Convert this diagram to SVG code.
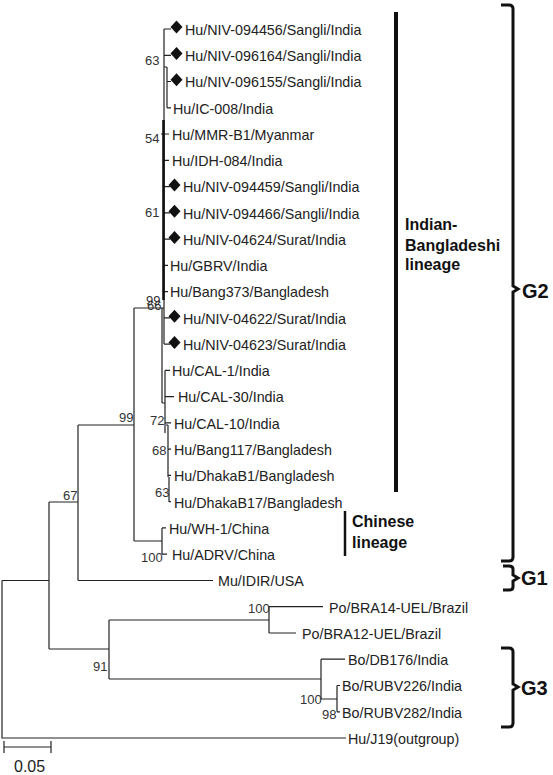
<svg xmlns="http://www.w3.org/2000/svg" width="553" height="775" viewBox="0 0 553 775">
<style>
.t{font-family:"Liberation Sans",Arial,sans-serif;font-size:14.3px;fill:#222}
.b{font-family:"Liberation Sans",Arial,sans-serif;font-size:13px;fill:#333}
.lb{font-family:"Liberation Sans",Arial,sans-serif;font-size:16px;font-weight:bold;fill:#111}
.g{font-family:"Liberation Sans",Arial,sans-serif;font-size:20px;font-weight:bold;fill:#111}
.e{fill:none;stroke:#222;stroke-width:1.2}
.k{fill:none;stroke:#111;stroke-width:3}
</style>
<defs>
<path id="dm" d="M0,-6.5 L6,0 L0,6.5 L-6,0 Z" fill="#111"/>
</defs>
<g id="connectors">
<path class="e" d="M2,580.5 V738 H346 M2,580.5 H49 M49,502 V649 M49,649 H109 M109,620 V679 M109,620 H269 M269,606.7 V633 M269,606.7 H323 M269,633 H296 M109,679 H321 M321,659.2 V699 M321,659.2 H345 M321,699 H337 M337,685.5 V711.8 M337,685.5 H340 M337,711.8 H340"/>
<path class="e" d="M49,502 H78 M78,425 V580.5 M78,580.5 H213 M78,425 H134 M134,308 V541 M134,541 H162 M162,527.9 V554.2 M162,527.9 H166 M162,554.2 H167 M134,308 H164"/>
<path class="e" d="M164,29 V344.1 M164,29 H171 M164,55.3 H171 M164,67 H167 M167,67 V107.8 M167,81.5 H171 M167,107.8 H171 M161,134 H169 M164,160.3 H169 M164,186.6 H170 M164,212.8 H170 M164,239.1 H170 M164,265.3 H168 M164,291.6 H168 M164,317.9 H170 M164,344.1 H170"/>
<path class="k" d="M163.5,120 V300" style="stroke-width:2.6"/>
<path class="e" d="M162,308 V403 M162,403 H165 M165,370.4 V433 M165,370.4 H170 M165,396.6 H167 M167,396.6 H174 M165,422.9 H171 M166,425 H168 M168,425 V477 M168,449.2 H171 M168,475.4 H171 M169,477 V502 M169,501.7 H171"/>
<path class="e" d="M4,747 H51 M4,741 V753 M51,741 V753"/>
</g>
<g id="markers">
<use href="#dm" x="176.5" y="27"/>
<use href="#dm" x="176.5" y="53.5"/>
<use href="#dm" x="176.5" y="79.7"/>
<use href="#dm" x="174.5" y="185"/>
<use href="#dm" x="174.5" y="211.2"/>
<use href="#dm" x="174.5" y="237.5"/>
<use href="#dm" x="174.5" y="316.3"/>
<use href="#dm" x="174.5" y="342.5"/>
</g>
<g id="leaves">
<text class="t" x="185" y="34.8">Hu/NIV-094456/Sangli/India</text>
<text class="t" x="185" y="61.1">Hu/NIV-096164/Sangli/India</text>
<text class="t" x="185" y="87.3">Hu/NIV-096155/Sangli/India</text>
<text class="t" x="173" y="113.6">Hu/IC-008/India</text>
<text class="t" x="172" y="139.8">Hu/MMR-B1/Myanmar</text>
<text class="t" x="172" y="166.1">Hu/IDH-084/India</text>
<text class="t" x="183" y="192.4">Hu/NIV-094459/Sangli/India</text>
<text class="t" x="183" y="218.6">Hu/NIV-094466/Sangli/India</text>
<text class="t" x="183" y="244.9">Hu/NIV-04624/Surat/India</text>
<text class="t" x="170" y="271.1">Hu/GBRV/India</text>
<text class="t" x="170" y="297.4">Hu/Bang373/Bangladesh</text>
<text class="t" x="183" y="323.7">Hu/NIV-04622/Surat/India</text>
<text class="t" x="183" y="349.9">Hu/NIV-04623/Surat/India</text>
<text class="t" x="172" y="376.2">Hu/CAL-1/India</text>
<text class="t" x="178" y="402.4">Hu/CAL-30/India</text>
<text class="t" x="174" y="428.7">Hu/CAL-10/India</text>
<text class="t" x="174" y="455">Hu/Bang117/Bangladesh</text>
<text class="t" x="174" y="481.2">Hu/DhakaB1/Bangladesh</text>
<text class="t" x="174" y="507.5">Hu/DhakaB17/Bangladesh</text>
<text class="t" x="169" y="533.7">Hu/WH-1/China</text>
<text class="t" x="172" y="560">Hu/ADRV/China</text>
<text class="t" x="218" y="586.3">Mu/IDIR/USA</text>
<text class="t" x="329" y="612.5">Po/BRA14-UEL/Brazil</text>
<text class="t" x="302" y="638.8">Po/BRA12-UEL/Brazil</text>
<text class="t" x="348" y="665">Bo/DB176/India</text>
<text class="t" x="342" y="691.3">Bo/RUBV226/India</text>
<text class="t" x="342" y="717.6">Bo/RUBV282/India</text>
<text class="t" x="348" y="743.8">Hu/J19(outgroup)</text>
</g>
<g id="bootstrap">
<text class="b" x="145" y="65">63</text>
<text class="b" x="145" y="143">54</text>
<text class="b" x="145" y="217">61</text>
<text class="b" x="146" y="305">99</text>
<text class="b" x="147" y="310">66</text>
<text class="b" x="150" y="425">72</text>
<text class="b" x="152" y="455">68</text>
<text class="b" x="155" y="497">63</text>
<text class="b" x="119" y="422">99</text>
<text class="b" x="63" y="500">67</text>
<text class="b" x="141" y="562">100</text>
<text class="b" x="248" y="613">100</text>
<text class="b" x="93" y="671">91</text>
<text class="b" x="300" y="704">100</text>
<text class="b" x="322" y="719">98</text>
<text x="14" y="772" style="font-family:'Liberation Sans',Arial,sans-serif;font-size:16px;fill:#222">0.05</text>
</g>
<g id="lineage-indian">
<path d="M396,12 V492" stroke="#111" stroke-width="4"/>
<text class="lb" x="405" y="230">Indian-</text>
<text class="lb" x="405" y="251">Bangladeshi</text>
<text class="lb" x="405" y="270">lineage</text>
</g>
<g id="lineage-chinese">
<path d="M345,511 V556" stroke="#111" stroke-width="2.5"/>
<text class="lb" x="352" y="527">Chinese</text>
<text class="lb" x="352" y="548">lineage</text>
</g>
<g id="G2">
<path class="k" d="M501,5 H509 Q513,5 513,9 V286 L518,289 L513,292 V557 Q513,561 509,561 H501"/>
<text class="g" x="522" y="298">G2</text>
</g>
<g id="G1">
<path class="k" d="M503,566 H509 Q513,566 513,569 V575 L518,578 L513,581 V587 Q513,590 509,590 H503"/>
<text class="g" x="521" y="585">G1</text>
</g>
<g id="G3">
<path class="k" d="M501,648 H509 Q513,648 513,652 V684 L518,687 L513,690 V723 Q513,727 509,727 H501"/>
<text class="g" x="521" y="695">G3</text>
</g>
</svg>
